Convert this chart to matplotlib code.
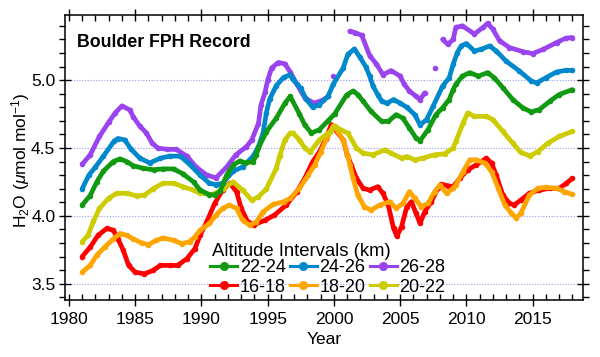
import numpy as np
import matplotlib
matplotlib.use("Agg")
import matplotlib.pyplot as plt
from matplotlib.lines import Line2D
from matplotlib.ticker import MultipleLocator, FormatStrFormatter

plt.rcParams['font.family'] = ['Liberation Sans', 'DejaVu Sans']
plt.rcParams['mathtext.fontset'] = 'custom'
plt.rcParams['mathtext.rm'] = 'Liberation Sans'
plt.rcParams['mathtext.it'] = 'Liberation Sans:italic'

nan = np.nan

# ---- data ----
yr_2628 = [1981.0, 1981.6, 1982.3, 1983.0, 1983.5, 1984.0, 1984.6, 1984.85, 1985.35, 1985.85, 1986.25, 1986.7,
           1987.4, 1988.1, 1988.9, 1989.6, 1990.4, 1991.1, 1991.9, 1992.6, 1993.4, 1993.8, 1994.3, 1994.5,
           1994.8, 1995.0, 1995.3, 1995.8, 1996.3, 1996.7, 1997.2, 1997.8, 1998.5, 1999.2, 1999.55, nan,
           1999.95, nan, 2001.2, 2001.6, 2002.1, 2002.7, 2003.2, 2003.7, 2004.3, 2005.0, 2005.3, 2005.7, 2006.2,
           2006.5, 2006.85, nan, 2007.6, nan, 2008.2, 2008.6, 2009.0, 2009.2, 2009.7, 2010.6, 2011.25, 2011.6,
           2012.0, 2012.5, 2013.25, 2014.25, 2015.0, 2015.8, 2016.8, 2017.5, 2018.0]
h2o_2628 = [4.38, 4.45, 4.585, 4.69, 4.76, 4.81, 4.78, 4.73, 4.66, 4.61, 4.54, 4.50,
            4.49, 4.49, 4.44, 4.36, 4.30, 4.28, 4.36, 4.45, 4.51, 4.56, 4.68, 4.82,
            4.91, 5.00, 5.09, 5.13, 5.12, 5.06, 4.97, 4.87, 4.83, 4.855, 4.88, nan,
            5.03, nan, 5.36, 5.35, 5.33, 5.18, 5.12, 5.04, 5.07, 5.03, 4.97, 4.92, 4.88,
            4.857, 4.906, nan, 5.09, nan, 5.30, 5.264, 5.30, 5.388, 5.40, 5.34, 5.388, 5.418,
            5.375, 5.29, 5.24, 5.21, 5.196, 5.227, 5.277, 5.309, 5.314]

yr_2426 = [1981.0, 1981.5, 1982.0, 1982.6, 1983.4, 1983.7, 1984.2, 1984.7, 1985.35, 1986.1, 1986.9, 1987.6,
           1988.4, 1989.1, 1989.9, 1990.6, 1991.1, 1991.6, 1992.4, 1993.1, 1993.9, 1994.3, 1994.65, 1994.9,
           1995.15, 1995.65, 1996.2, 1996.7, 1996.9, 1997.5, 1997.9, 1998.4, 1998.9, 1999.55, 1999.95,
           2000.7, 2001.05, 2001.55, 2001.95, 2002.4, 2002.7, 2002.95, 2003.3, 2003.6, 2004.0, 2004.5,
           2005.0, 2005.5, 2006.1, 2006.5, 2007.0, 2007.5, 2008.2, 2008.7, 2009.0, 2009.3, 2009.6, 2010.0,
           2010.6, 2011.1, 2011.75, 2012.25, 2013.0, 2014.0, 2014.9, 2015.3, 2016.0, 2016.8, 2017.5, 2018.0]
h2o_2426 = [4.20, 4.30, 4.36, 4.44, 4.55, 4.57, 4.56, 4.49, 4.425, 4.39, 4.425, 4.44,
            4.44, 4.38, 4.30, 4.24, 4.23, 4.24, 4.33, 4.36, 4.44, 4.51, 4.61, 4.76,
            4.86, 4.96, 5.02, 5.04, 5.005, 4.94, 4.86, 4.80, 4.82, 4.88, 4.97,
            5.09, 5.19, 5.23, 5.17, 5.10, 5.03, 4.956, 4.894, 4.845, 4.83, 4.857,
            4.83, 4.80, 4.746, 4.67, 4.71, 4.81, 4.956, 5.018, 5.116, 5.20, 5.252, 5.27,
            5.215, 5.227, 5.252, 5.215, 5.14, 5.067, 4.993, 4.98, 5.018, 5.06, 5.072, 5.072]

yr_2224 = [1981.0, 1981.6, 1982.1, 1982.6, 1983.35, 1983.85, 1984.35, 1984.85, 1985.6, 1986.4, 1987.1,
           1987.9, 1988.6, 1989.4, 1989.9, 1990.6, 1991.0, 1991.4, 1991.9, 1992.4, 1992.9, 1993.3, 1993.9,
           1994.15, 1994.3, 1994.9, 1995.65, 1996.3, 1996.7, 1997.4, 1997.8, 1998.3, 1998.9, 1999.55,
           2000.05, 2000.95, 2001.45, 2001.8, 2002.2, 2002.8, 2003.6, 2004.1, 2004.7, 2005.2, 2005.7,
           2006.2, 2006.5, 2007.1, 2007.7, 2008.2, 2008.7, 2009.0, 2009.2, 2009.7, 2010.25, 2010.9,
           2011.6, 2012.1, 2012.75, 2013.5, 2014.25, 2014.9, 2015.5, 2016.3, 2017.0, 2018.0]
h2o_2224 = [4.08, 4.15, 4.25, 4.33, 4.40, 4.42, 4.40, 4.37, 4.35, 4.34, 4.346,
            4.346, 4.31, 4.25, 4.19, 4.155, 4.155, 4.18, 4.30, 4.375, 4.405, 4.39, 4.40,
            4.45, 4.50, 4.62, 4.72, 4.83, 4.88, 4.75, 4.67, 4.61, 4.635, 4.70,
            4.75, 4.89, 4.92, 4.894, 4.845, 4.77, 4.696, 4.696, 4.746, 4.72, 4.647,
            4.573, 4.553, 4.635, 4.746, 4.796, 4.857, 4.93, 4.968, 5.03, 5.055, 5.03,
            5.055, 5.018, 4.944, 4.857, 4.796, 4.766, 4.783, 4.845, 4.894, 4.93]

yr_2022 = [1981.0, 1981.45, 1981.85, 1982.3, 1983.0, 1983.6, 1984.35, 1985.1, 1985.7, 1986.35, 1987.1,
           1987.9, 1988.6, 1989.4, 1989.9, 1990.9, 1991.6, 1992.4, 1993.1, 1993.8, 1994.3, 1994.9, 1995.65,
           1995.9, 1996.3, 1996.7, 1996.9, 1997.4, 1997.8, 1998.2, 1998.9, 1999.7, 2000.05, 2000.4, 2001.05,
           2001.7, 2002.2, 2002.95, 2003.85, 2004.3, 2005.1, 2005.5, 2006.1, 2006.7, 2007.6, 2008.35,
           2009.0, 2009.2, 2009.75, 2010.1, 2010.6, 2011.5, 2012.0, 2012.75, 2013.5, 2014.1, 2014.8,
           2015.4, 2016.15, 2017.0, 2018.0]
h2o_2022 = [3.81, 3.86, 3.96, 4.055, 4.13, 4.166, 4.166, 4.148, 4.153, 4.20, 4.24,
            4.24, 4.215, 4.19, 4.166, 4.158, 4.20, 4.25, 4.19, 4.116, 4.14, 4.20, 4.35,
            4.44, 4.56, 4.61, 4.61, 4.56, 4.50, 4.47, 4.56, 4.62, 4.664, 4.64, 4.61,
            4.50, 4.462, 4.45, 4.487, 4.462, 4.425, 4.437, 4.413, 4.425, 4.45, 4.457,
            4.50, 4.548, 4.684, 4.758, 4.733, 4.733, 4.709, 4.622, 4.536, 4.467, 4.442,
            4.474, 4.536, 4.585, 4.622]

yr_1618 = [1981.0, 1981.6, 1982.2, 1982.85, 1983.35, 1983.7, 1984.1, 1984.5, 1985.0, 1985.7, 1986.35,
           1986.9, 1987.6, 1988.2, 1988.9, 1989.5, 1989.9, 1990.4, 1991.0, 1991.6, 1992.15, 1992.65,
           1993.0, 1993.5, 1994.0, 1994.8, 1995.5, 1996.4, 1997.2, 1997.8, 1998.4, 1998.9, 1999.4, 1999.8,
           2000.2, 2000.7, 2001.0, 2001.3, 2001.7, 2002.2, 2002.7, 2003.3, 2003.7, 2004.1, 2004.5, 2004.75,
           2005.1, 2005.5, 2005.85, 2006.2, 2006.5, 2006.85, 2007.35, 2007.85, 2008.1, 2008.6, 2009.0,
           2009.5, 2010.1, 2010.75, 2011.5, 2011.9, 2012.25, 2012.75, 2013.25, 2013.6, 2014.1, 2014.75,
           2015.5, 2016.3, 2017.0, 2017.55, 2018.0]
h2o_1618 = [3.70, 3.77, 3.857, 3.907, 3.894, 3.83, 3.746, 3.635, 3.585, 3.573, 3.598,
            3.635, 3.635, 3.635, 3.684, 3.758, 3.857, 3.956, 4.092, 4.19, 4.24, 4.178,
            4.055, 3.956, 3.936, 3.968, 4.005, 4.08, 4.178, 4.277, 4.40, 4.47, 4.57, 4.672,
            4.622, 4.56, 4.45, 4.376, 4.277, 4.203, 4.19, 4.215, 4.166, 4.08, 3.907, 3.85,
            3.919, 4.067, 4.104, 4.018, 3.944, 4.03, 4.104, 4.203, 4.233, 4.222, 4.215,
            4.277, 4.339, 4.376, 4.425, 4.388, 4.30, 4.153, 4.092, 4.08, 4.116, 4.166,
            4.19, 4.203, 4.203, 4.24, 4.277]

yr_1820 = [1981.0, 1981.6, 1982.1, 1982.7, 1983.35, 1983.85, 1984.35, 1984.85, 1985.5, 1986.0, 1986.6,
           1987.1, 1987.9, 1988.5, 1989.1, 1989.5, 1989.9, 1990.6, 1991.1, 1991.6, 1992.1, 1992.65,
           1993.1, 1993.65, 1994.15, 1994.65, 1995.4, 1996.2, 1996.7, 1997.4, 1998.05, 1998.55, 1999.0,
           1999.5, 1999.95, 2000.3, 2000.7, 2001.05, 2001.2, 2001.45, 2001.8, 2002.3, 2002.8, 2003.45,
           2004.2, 2004.7, 2005.2, 2005.7, 2006.1, 2006.6, 2007.1, 2007.6, 2008.0, 2008.5, 2009.0, 2009.2,
           2009.75, 2010.25, 2010.75, 2011.4, 2011.9, 2012.4, 2012.9, 2013.4, 2013.75, 2014.1, 2014.75,
           2015.4, 2016.0, 2016.8, 2017.4, 2018.0]
h2o_1820 = [3.585, 3.635, 3.71, 3.77, 3.83, 3.87, 3.857, 3.83, 3.80, 3.788, 3.82,
            3.837, 3.82, 3.795, 3.81, 3.845, 3.894, 3.944, 4.005, 4.055, 4.08, 4.055,
            3.968, 3.93, 3.956, 4.03, 4.084, 4.104, 4.129, 4.203, 4.30, 4.376, 4.47,
            4.58, 4.66, 4.62, 4.56, 4.437, 4.376, 4.277, 4.153, 4.067, 4.042, 4.08,
            4.104, 4.055, 4.092, 4.178, 4.129, 4.067, 4.092, 4.178, 4.227, 4.166, 4.203, 4.227,
            4.326, 4.413, 4.413, 4.388, 4.326, 4.203, 4.08, 4.018, 3.985, 4.018, 4.153,
            4.203, 4.21, 4.203, 4.178, 4.158]

labels = ['16-18', '18-20', '20-22', '22-24', '24-26', '26-28']
colors = {'16-18': '#ff0000', '18-20': '#ffa500', '20-22': '#cccc00',
          '22-24': '#119911', '24-26': '#0088cc', '26-28': '#9944ee'}
series = {'16-18': (yr_1618, h2o_1618), '18-20': (yr_1820, h2o_1820), '20-22': (yr_2022, h2o_2022),
          '22-24': (yr_2224, h2o_2224), '24-26': (yr_2426, h2o_2426), '26-28': (yr_2628, h2o_2628)}

fig = plt.figure(figsize=(6.0, 3.57), dpi=100)
ax = fig.add_axes([65/600, 1-300/357, (583-65)/600, (300-15)/357])

for yv in [3.5, 4.0, 4.5, 5.0]:
    ax.axhline(yv, color='#9a9af0', lw=0.8, ls=(0, (1, 1.5)), zorder=1)

for lab in ['16-18', '18-20', '20-22', '26-28', '24-26', '22-24']:
    x, y = series[lab]
    ax.plot(x, y, color=colors[lab], lw=3.4, solid_capstyle='round', solid_joinstyle='round',
            marker='o', ms=4.0, mew=0, zorder=3)

ax.set_xlim(1979.7, 2018.8)
ax.set_ylim(3.38, 5.48)
ax.xaxis.set_major_locator(MultipleLocator(5))
ax.xaxis.set_minor_locator(MultipleLocator(1))
ax.yaxis.set_major_locator(MultipleLocator(0.5))
ax.yaxis.set_minor_locator(MultipleLocator(0.1))
ax.yaxis.set_major_formatter(FormatStrFormatter('%.1f'))

for s in ax.spines.values():
    s.set_linewidth(1.1)
ax.tick_params(which='both', top=True, right=True, labelsize=12.5, width=1.0, color='black')
ax.tick_params(axis='x', which='major', direction='inout', length=8, pad=5)
ax.tick_params(axis='x', which='minor', direction='in', length=4)
ax.tick_params(axis='y', which='major', direction='inout', length=8, pad=3)
ax.tick_params(axis='y', which='minor', direction='out', length=4)

ax.set_xlabel('Year', fontsize=12.5, labelpad=3)
ax.set_ylabel(r'H$_2$O ($\mu$mol mol$^{-1}$)', fontsize=12.5)
ax.yaxis.set_label_coords(-0.064, 0.49)

ax.text(0.023, 0.888, 'Boulder FPH Record', transform=ax.transAxes, fontsize=12.8,
        fontweight='bold', va='baseline', ha='left')

fig.text(212/600, 1-256/357, 'Altitude Intervals (km)', fontsize=13.3, va='baseline', ha='left')
order = ['22-24', '16-18', '24-26', '18-20', '26-28', '20-22']
handles = [Line2D([0], [0], color=colors[l], lw=2.2, marker='o', ms=6.5, mew=0) for l in order]
leg = fig.legend(handles, order, loc='upper left', bbox_to_anchor=(210/600, 1-259/357), ncol=3,
                 frameon=False, fontsize=13, borderpad=0, handlelength=1.5, handletextpad=0.15,
                 columnspacing=0.22, labelspacing=0.15, borderaxespad=0)

fig.savefig('out.png', dpi=100)
